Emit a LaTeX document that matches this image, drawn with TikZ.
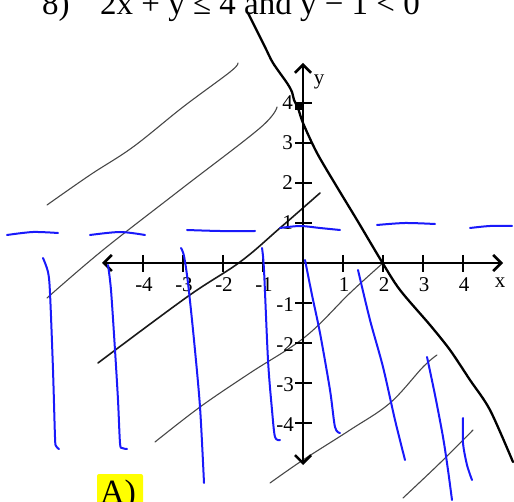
\documentclass[tikz,border=0pt]{standalone}
\usepackage{fontspec}
\setmainfont{Liberation Serif}
\usetikzlibrary{arrows.meta}
\definecolor{penblue}{RGB}{25,25,250}
\definecolor{hl}{RGB}{255,255,0}
\begin{document}
\begin{tikzpicture}[x=1pt,y=-1pt,
  axis/.style={line width=2.6pt, >={Straight Barb[length=8pt,width=16pt]}, <->},
  tickmark/.style={line width=2.6pt},
  hatch/.style={line width=1.1pt, draw=black!72, line cap=round},
  hatchdark/.style={line width=1.6pt, draw=black!90, line cap=round},
  pen/.style={line width=2pt, draw=penblue, line cap=round, line join=round},
  mainline/.style={line width=2.3pt, draw=black, line cap=round, line join=round},
  lbl/.style={font=\fontsize{21}{21}\selectfont, inner sep=0pt}
]
\useasboundingbox (0,0) rectangle (514,502);
\clip (0,0) rectangle (514,502);

% title (cut off at top)
\node[anchor=base west, inner sep=0pt, font=\fontsize{33}{33}\selectfont] (num) at (42,15) {8)};
\node[anchor=base west, inner sep=0pt, font=\fontsize{33}{33}\selectfont] (title) at (100,15) {2x + y ≤ 4 and y − 1 < 0};

% hatching lines (pencil)
\draw[hatch] plot[smooth, tension=0.6] coordinates {(47,205) (90,175) (133,147) (183,107) (230,72) (238,63)};
\draw[hatch] plot[smooth, tension=0.6] coordinates {(47,298) (103,250) (180,190) (260,128) (277,107)};
\draw[hatch] plot[smooth, tension=0.6] coordinates {(155,442) (200,407) (250,373) (305,337) (350,293) (383,263)};
\draw[hatch] plot[smooth, tension=0.6] coordinates {(270,483) (303,460) (350,430) (390,403) (423,367) (437,355)};
\draw[hatch] plot[smooth, tension=0.6] coordinates {(403,498) (440,463) (473,430)};
\draw[hatchdark] plot[smooth, tension=0.6] coordinates {(98,363) (187,297) (240,262) (280,228) (320,193)};

% axes
\coordinate (xl) at (102,263); \coordinate (xr) at (503,263);
\coordinate (yt) at (303,63);  \coordinate (yb) at (303,465);
\draw[axis] (xl) -- (xr);
\draw[axis] (yb) -- (yt);
\foreach \i in {-4,-3,-2,-1,1,2,3,4}{
  \draw[tickmark] (303+40*\i,255) -- (303+40*\i,272);
  \draw[tickmark] (295,263-40*\i) -- (312,263-40*\i);
}
% x labels
\foreach \i/\t in {-4/-4,-3/-3,-2/-2,-1/-1}{
  \node[lbl] (xlab\i) at (304+40*\i,285) {\t};
}
\foreach \i in {1,2,3,4}{
  \node[lbl] (xlab\i) at (304+40*\i,285) {\i};
}
% y labels
\foreach \i in {1,2,3,4}{
  \node[lbl, anchor=east] (ylab\i) at (293,263-40*\i) {\i};
}
\foreach \i in {1,2,3,4}{
  \node[lbl, anchor=east] (ylabm\i) at (294,265+40*\i) {-\i};
}
\node[lbl] (xname) at (500,283) {x};
\node[lbl, anchor=base] (yname) at (319,85) {y};

% boundary line 2x+y=4
\draw[mainline] plot[smooth, tension=0.5] coordinates {(248,13) (252,21) (265,47) (273,63) (287,83) (292,92) (294,100) (298,108) (303,123) (317,153) (337,187) (357,220) (382,262) (400,290) (430,325) (450,350) (470,380) (490,410) (513,462)};
\fill (294.5,103) rectangle (301.5,110);

% blue dashed line y=1
\draw[pen] plot[smooth] coordinates {(7,235) (33,232) (58,233)};
\draw[pen] plot[smooth] coordinates {(90,235) (120,232) (145,235)};
\draw[pen] plot[smooth] coordinates {(187,230) (220,231) (255,231)};
\draw[pen] plot[smooth] coordinates {(280,228) (300,226) (320,228) (340,230)};
\draw[pen] plot[smooth] coordinates {(377,225) (405,223) (435,224)};
\draw[pen] plot[smooth] coordinates {(470,228) (490,226) (512,226)};

% blue vertical shading
\draw[pen] plot[smooth, tension=0.5] coordinates {(43,258) (48,272) (50,293) (53,370) (55,437) (56,446) (59,449)};
\draw[pen] plot[smooth, tension=0.5] coordinates {(108,265) (111,290) (115,350) (118,400) (120,443) (122,448) (127,449)};
\draw[pen] plot[smooth, tension=0.5] coordinates {(181,248) (184,256) (188,283) (194,340) (200,407) (204,483)};
\draw[pen] plot[smooth, tension=0.5] coordinates {(262,248) (264,270) (268,360) (272,410) (275,437) (280,440)};
\draw[pen] plot[smooth, tension=0.5] coordinates {(305,260) (312,295) (320,333) (330,390) (335,427) (340,433)};
\draw[pen] plot[smooth, tension=0.5] coordinates {(358,270) (370,320) (383,367) (395,420) (405,460)};
\draw[pen] plot[smooth, tension=0.5] coordinates {(427,357) (435,395) (443,437) (448,470) (452,500)};
\draw[pen] plot[smooth, tension=0.5] coordinates {(463,418) (463,443) (467,465) (472,480)};

% answer label
\fill[hl, rounded corners=2pt] (97,474) rectangle (143,512);
\node[anchor=base west, inner sep=0pt, font=\fontsize{34}{34}\selectfont] (ans) at (100,503) {A)};
\end{tikzpicture}
\end{document}
